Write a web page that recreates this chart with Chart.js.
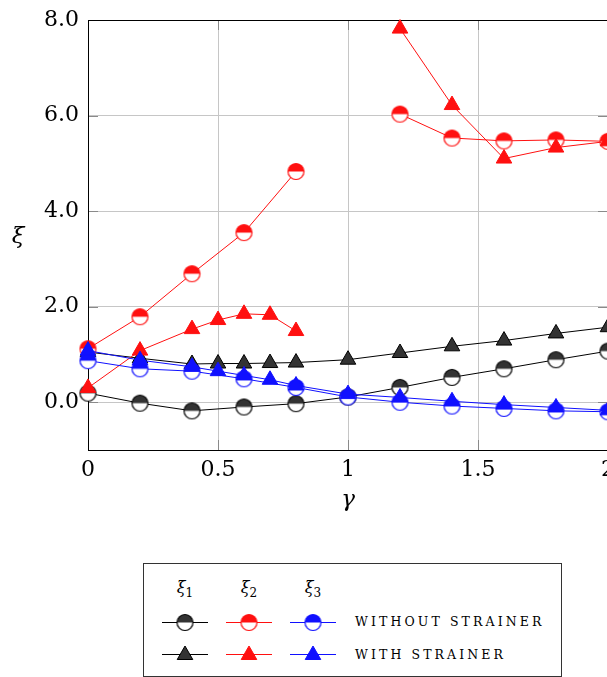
<!DOCTYPE html>
<html lang="en">
<head>
<meta charset="UTF-8">
<title>xi vs gamma</title>
<script src="https://cdn.jsdelivr.net/npm/chart.js"></script>
<style>
    html, body { margin: 0; padding: 0; background: #fff; overflow: hidden; width: 607px; height: 677px; }
    #wrap { position: absolute; left: 0; top: 0; width: 660px; height: 530px; }
    #legend { position: absolute; left: 143px; top: 563px; width: 417px; height: 112px; border: 1px solid #333; font-family: "DejaVu Serif", serif; }
    .hd { position: absolute; top: 14px; width: 46px; text-align: center; font-size: 16px; font-style: italic; }
    .hd sub { font-size: 12px; font-style: normal; }
    .smp { position: absolute; }
    .lbl { position: absolute; left: 211px; font-size: 12.5px; letter-spacing: 3.1px; line-height: 16px; }
</style>
</head>
<body>

<div id="wrap"><canvas id="chart" width="660" height="530"></canvas></div>

<div id="legend">
    <div class="hd" style="left:18px">ξ<sub>1</sub></div>
    <div class="hd" style="left:82px">ξ<sub>2</sub></div>
    <div class="hd" style="left:146px">ξ<sub>3</sub></div>
    <canvas class="smp" id="s1a" width="46" height="22" style="left:18px;top:47px"></canvas>
    <canvas class="smp" id="s2a" width="46" height="22" style="left:82px;top:47px"></canvas>
    <canvas class="smp" id="s3a" width="46" height="22" style="left:146px;top:47px"></canvas>
    <canvas class="smp" id="s1b" width="46" height="22" style="left:18px;top:79px"></canvas>
    <canvas class="smp" id="s2b" width="46" height="22" style="left:82px;top:79px"></canvas>
    <canvas class="smp" id="s3b" width="46" height="22" style="left:146px;top:79px"></canvas>
    <div class="lbl" style="top:50px">WITHOUT STRAINER</div>
    <div class="lbl" style="top:83px">WITH STRAINER</div>
</div>

<script>
// gamma values (circles: without strainer, triangles: with strainer)
const gammaWithout = [0, 0.2, 0.4, 0.6, 0.8, 1.0, 1.2, 1.4, 1.6, 1.8, 2.0];
const gammaWith = [0, 0.2, 0.4, 0.5, 0.6, 0.7, 0.8, 1.0, 1.2, 1.4, 1.6, 1.8, 2.0];

const xi1Without = [0.19, -0.02, -0.18, -0.10, -0.03, 0.11, 0.31, 0.52, 0.70, 0.89, 1.07];
const xi2Without = [1.12, 1.79, 2.69, 3.55, 4.83, null, 6.03, 5.53, 5.47, 5.49, 5.46];
const xi3Without = [0.87, 0.70, 0.65, 0.49, 0.31, 0.11, 0.00, -0.08, -0.13, -0.18, -0.20];

const xi1With = [1.05, 0.92, 0.80, 0.81, 0.81, 0.82, 0.83, 0.89, 1.03, 1.17, 1.29, 1.44, 1.57];
const xi2With = [0.30, 1.08, 1.53, 1.72, 1.85, 1.83, 1.49, null, 7.82, 6.22, 5.10, 5.33, 5.46];
const xi3With = [1.08, 0.88, 0.74, 0.65, 0.56, 0.47, 0.35, 0.17, 0.10, 0.02, -0.05, -0.11, -0.17];

const xTicks = [0, 0.5, 1, 1.5, 2];
const yTicks = [0, 2, 4, 6, 8];

const BLACK = '#000000', DARK = '#333333', RED = '#ff1010', BLUE = '#1010ff';
const FONT = '"DejaVu Serif", serif';

// half filled circle marker (top half coloured)
function halfCircle(stroke, fill, r) {
    const c = document.createElement('canvas');
    const s = Math.ceil(2 * r + 3);
    c.width = c.height = s;
    const g = c.getContext('2d');
    const m = s / 2;
    g.beginPath(); g.arc(m, m, r, 0, Math.PI * 2); g.fillStyle = '#fff'; g.fill();
    g.beginPath(); g.arc(m, m, r, Math.PI, Math.PI * 2); g.closePath(); g.fillStyle = fill; g.fill();
    g.beginPath(); g.arc(m, m, r, 0, Math.PI * 2); g.lineWidth = 1.2; g.strokeStyle = stroke; g.stroke();
    return c;
}

const circ1 = halfCircle(BLACK, DARK, 8);
const circ2 = halfCircle(RED, RED, 8);
const circ3 = halfCircle(BLUE, BLUE, 8);

function pts(xs, ys) {
    return xs.map((x, i) => ({ x: x, y: ys[i] }));
}

function circleSet(label, xs, ys, col, img) {
    return {
        label: label, data: pts(xs, ys), borderColor: col, borderWidth: 1,
        pointStyle: img, pointRadius: 8, spanGaps: false, clip: false
    };
}

function triSet(label, xs, ys, col, fill) {
    return {
        label: label, data: pts(xs, ys), borderColor: col, borderWidth: 1,
        pointStyle: 'triangle', pointRadius: 9, pointBackgroundColor: fill,
        pointBorderColor: col, pointBorderWidth: 1, spanGaps: false, clip: false
    };
}

// first dataset is drawn on top
const datasets = [
    triSet('ξ3 with strainer', gammaWith, xi3With, BLUE, BLUE),
    circleSet('ξ3 without strainer', gammaWithout, xi3Without, BLUE, circ3),
    triSet('ξ2 with strainer', gammaWith, xi2With, RED, RED),
    circleSet('ξ2 without strainer', gammaWithout, xi2Without, RED, circ2),
    triSet('ξ1 with strainer', gammaWith, xi1With, BLACK, DARK),
    circleSet('ξ1 without strainer', gammaWithout, xi1Without, BLACK, circ1)
];

const framePlugin = {
    id: 'frame',
    beforeDatasetsDraw(chart) {
        const { ctx, chartArea: a, scales } = chart;
        ctx.save();
        ctx.strokeStyle = '#8a8a8a';
        ctx.lineWidth = 1;
        ctx.beginPath();
        yTicks.forEach(v => {
            const p = Math.round(scales.y.getPixelForValue(v)) + 0.5;
            ctx.moveTo(a.left, p); ctx.lineTo(a.left + 10, p);
            ctx.moveTo(a.right - 10, p); ctx.lineTo(a.right, p);
        });
        xTicks.forEach(v => {
            const p = Math.round(scales.x.getPixelForValue(v)) + 0.5;
            ctx.moveTo(p, a.bottom); ctx.lineTo(p, a.bottom - 10);
            ctx.moveTo(p, a.top); ctx.lineTo(p, a.top + 10);
        });
        ctx.stroke();
        ctx.strokeStyle = '#000';
        ctx.strokeRect(Math.round(a.left) + 0.5, Math.round(a.top) + 0.5,
            Math.round(a.right - a.left), Math.round(a.bottom - a.top));
        ctx.restore();
    },
    afterDraw(chart) {
        const { ctx, chartArea: a } = chart;
        ctx.save();
        ctx.fillStyle = '#000';
        ctx.font = 'italic 23px ' + FONT;
        ctx.textAlign = 'center';
        ctx.textBaseline = 'middle';
        ctx.fillText('γ', (a.left + 348 - 88), 500);
        ctx.fillText('ξ', 18, 237);
        ctx.restore();
    }
};

new Chart(document.getElementById('chart'), {
    type: 'line',
    data: { datasets: datasets },
    options: {
        responsive: false,
        animation: false,
        devicePixelRatio: 1,
        layout: { padding: { top: 16, right: 52, bottom: 0, left: 0 } },
        plugins: { legend: { display: false }, tooltip: { enabled: false } },
        elements: { line: { tension: 0 } },
        scales: {
            x: {
                type: 'linear', min: 0, max: 2,
                afterFit: s => { s.height = 80; },
                afterBuildTicks: s => { s.ticks = xTicks.map(v => ({ value: v })); },
                border: { display: false },
                grid: { color: '#c6c6c6', lineWidth: 1, drawTicks: false },
                ticks: {
                    color: '#000', padding: 9, maxRotation: 0,
                    font: { family: FONT, size: 22, lineHeight: 1 },
                    callback: v => String(v)
                }
            },
            y: {
                min: -1, max: 8,
                afterFit: s => { s.width = 88; },
                afterBuildTicks: s => { s.ticks = yTicks.map(v => ({ value: v })); },
                border: { display: false },
                grid: { color: '#c6c6c6', lineWidth: 1, drawTicks: false },
                ticks: {
                    color: '#000', padding: 9,
                    font: { family: FONT, size: 22, lineHeight: 1 },
                    callback: v => v.toFixed(1)
                }
            }
        }
    },
    plugins: [framePlugin]
});

// legend samples
function sample(id, col, kind, img, fill) {
    const g = document.getElementById(id).getContext('2d');
    g.strokeStyle = col; g.lineWidth = 1;
    g.beginPath(); g.moveTo(0, 11.5); g.lineTo(46, 11.5); g.stroke();
    if (kind === 'circle') {
        g.drawImage(img, 23 - img.width / 2, 11.5 - img.height / 2);
    } else {
        const r = 9, cx = 23, cy = 12;
        g.beginPath();
        g.moveTo(cx, cy - r);
        g.lineTo(cx + Math.sin(2 * Math.PI / 3) * r, cy - Math.cos(2 * Math.PI / 3) * r);
        g.lineTo(cx + Math.sin(4 * Math.PI / 3) * r, cy - Math.cos(4 * Math.PI / 3) * r);
        g.closePath();
        g.fillStyle = fill; g.fill(); g.stroke();
    }
}
sample('s1a', BLACK, 'circle', circ1);
sample('s2a', RED, 'circle', circ2);
sample('s3a', BLUE, 'circle', circ3);
sample('s1b', BLACK, 'tri', null, DARK);
sample('s2b', RED, 'tri', null, RED);
sample('s3b', BLUE, 'tri', null, BLUE);
</script>
</body>
</html>
